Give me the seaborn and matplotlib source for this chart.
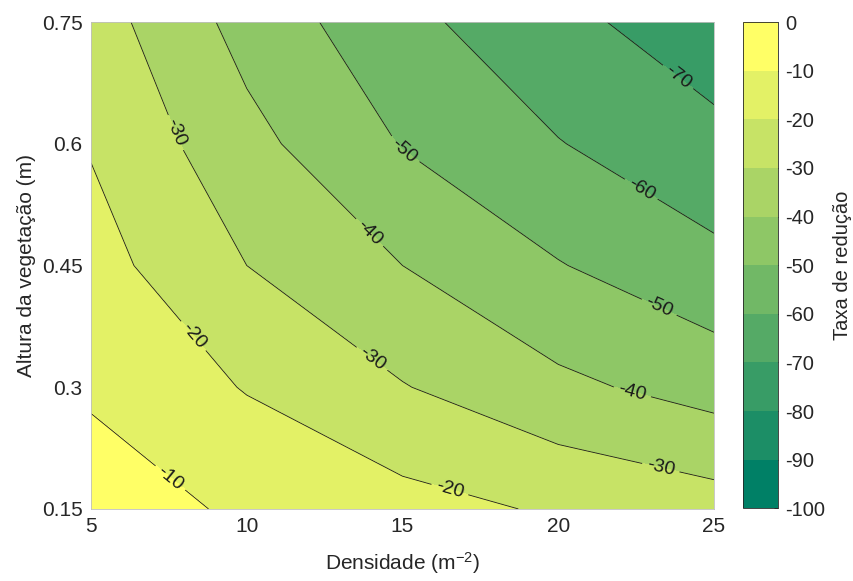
import numpy as np
import matplotlib
matplotlib.use("Agg")
import matplotlib.pyplot as plt
import seaborn as sns
from matplotlib.colors import ListedColormap, BoundaryNorm

# Data grid
densidade = [5, 10, 15, 20, 25]
altura = [0.15, 0.30, 0.45, 0.60, 0.75]
# rows: altura, cols: densidade
taxa_015 = [-6.0, -11.3, -16.5, -21.2, -25.6]
taxa_030 = [-11.1, -20.6, -29.5, -37.8, -43.9]
taxa_045 = [-16.2, -30.0, -40.0, -49.5, -57.4]
taxa_060 = [-20.7, -37.0, -50.5, -59.6, -67.2]
taxa_075 = [-25.3, -43.6, -57.3, -67.3, -75.9]
niveis = list(range(-100, 1, 10))
rotulos_niveis = [-70, -60, -50, -40, -30, -20, -10]
cbar_ticks = list(range(-100, 1, 10))

sns.set_theme(style="white")
plt.rcParams['font.family'] = ['Liberation Sans', 'DejaVu Sans']
plt.rcParams['mathtext.default'] = 'regular'
plt.rcParams['axes.unicode_minus'] = False

Z = np.array([taxa_015, taxa_030, taxa_045, taxa_060, taxa_075])
X, Y = np.meshgrid(densidade, altura)

cols = sns.blend_palette([(0.0, 0.5, 0.4), (1.0, 1.0, 0.4)], 10)
cmap = ListedColormap(cols)
norm = BoundaryNorm(niveis, cmap.N)

fig = plt.figure(figsize=(8.54, 5.81), dpi=100)
ax = fig.add_axes([0.1066, 0.124, 0.7294, 0.838])
cax = fig.add_axes([0.870, 0.125, 0.041, 0.837])

cf = ax.contourf(X, Y, Z, levels=niveis, cmap=cmap, norm=norm)
cs = ax.contour(X, Y, Z, levels=rotulos_niveis, colors='#1a1a1a',
                linewidths=0.6, linestyles='solid')

manual = [(7.5, 0.186), (8.25, 0.362), (16.5, 0.171), (7.67, 0.613),
          (14.0, 0.334), (23.3, 0.202), (13.8, 0.485), (22.4, 0.297),
          (15.2, 0.60), (23.2, 0.395), (22.6, 0.54), (23.8, 0.68)]
ax.clabel(cs, manual=manual, inline=True, fontsize=14, fmt='%d', inline_spacing=5)

ax.set_xlim(5, 25)
ax.set_ylim(0.15, 0.75)
ax.set_xticks([5, 10, 15, 20, 25])
ax.set_yticks([0.15, 0.3, 0.45, 0.6, 0.75])
ax.set_yticklabels(['0.15', '0.3', '0.45', '0.6', '0.75'])
ax.tick_params(labelsize=15, colors='#262626', length=0, pad=6)
ax.set_xlabel('Densidade (m$^{-2}$)', fontsize=15, color='#262626', labelpad=10)
ax.set_ylabel('Altura da vegetação (m)', fontsize=15, color='#262626', labelpad=4)
for s in ax.spines.values():
    s.set_color('#bfbfbf')
    s.set_linewidth(0.6)

cb = fig.colorbar(cf, cax=cax, ticks=cbar_ticks)
cb.ax.set_yticklabels([str(t) for t in cbar_ticks])
cb.ax.tick_params(labelsize=14.5, colors='#262626', length=3, width=0.6,
                  direction='in', pad=5)
cb.outline.set_edgecolor('#262626')
cb.outline.set_linewidth(0.6)
cb.set_label('Taxa de redução', fontsize=14.5, color='#262626', labelpad=6)

fig.savefig('out.png', dpi=100)
